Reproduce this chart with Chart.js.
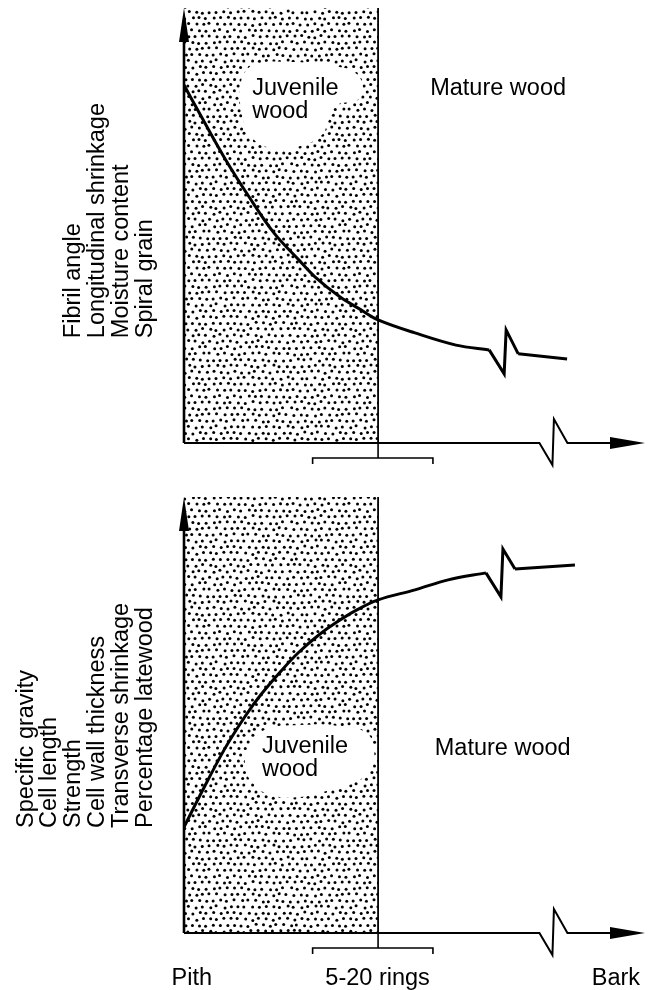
<!DOCTYPE html>
<html><head><meta charset="utf-8">
<script src="https://cdn.jsdelivr.net/npm/chart.js@4.4.1/dist/chart.umd.min.js"></script>
<style>
html,body{margin:0;padding:0;background:#fff;}
#wrap{position:relative;width:650px;height:990px;background:#fff;}
canvas{position:absolute;left:0;}
</style></head><body>
<div id="wrap">
<canvas id="cTop" width="650" height="480" style="top:0px"></canvas>
<canvas id="cBot" width="650" height="510" style="top:480px"></canvas>
</div>
<script>
// ---------- DATA (relative radial position 0 = pith, 100 = bark; relative property level 0-100) ----------
const juvenileEnd = 42.1;            // juvenile / mature boundary
const ringsBracket = [27.9, 54.0];   // 5-20 rings span
const axisBreakX = 77.1;             // break on the radial axis
const xLabels = ["Pith", "5-20 rings", "Bark"];
const xLabelPos = [1.7, 42.0, 93.7];

const topLabels = ["Fibril angle", "Longitudinal shrinkage", "Moisture content", "Spiral grain"];
const botLabels = ["Specific gravity", "Cell length", "Strength", "Cell wall thickness", "Transverse shrinkage", "Percentage latewood"];
const zoneJuvenile = ["Juvenile", "wood"];
const zoneMature = "Mature wood";

// upper panel: decreasing properties (before and after the curve break)
const topCurveX  = [0, 3.3, 8.7, 14.1, 19.5, 24.9, 28.4, 33.8, 38.4, 42.1, 50.1, 59.0, 66.2];
const topCurveY  = [82.3, 75.9, 65.7, 56.6, 48.3, 42.1, 38.2, 33.6, 30.6, 28.3, 25.3, 22.5, 21.4];
const topCurve2X = [72.5, 83.1];
const topCurve2Y = [20.5, 19.3];

// lower panel: increasing properties
const botCurveX  = [0, 3.3, 8.7, 13.2, 16.7, 21.3, 24.9, 29.3, 33.0, 37.5, 42.1, 50.1, 57.3, 65.5];
const botCurveY  = [24.3, 31.2, 42.0, 49.6, 54.7, 60.4, 64.4, 68.4, 71.2, 74.1, 76.4, 78.7, 81.0, 82.6];
const botCurve2X = [71.8, 84.8];
const botCurve2Y = [83.5, 84.4];

// clear "cloud" behind the Juvenile wood label
const topBlobX = [12.6, 15.4, 23.0, 31.7, 37.1, 38.8, 37.7, 32.8, 31.2, 29.9, 25.2, 19.1, 14.8, 12.8, 12.1];
const topBlobY = [84.6, 87.1, 87.6, 86.7, 85.1, 81.6, 78.9, 77.5, 73.8, 70.8, 68.3, 67.8, 70.1, 74.7, 80.0];
const botBlobX = [14.3, 17.6, 25.2, 33.8, 39.3, 41.2, 40.3, 37.1, 31.7, 25.2, 18.7, 14.8, 13.2];
const botBlobY = [43.1, 46.6, 47.7, 47.5, 46.1, 42.4, 37.4, 34.6, 32.8, 31.2, 31.7, 34.6, 38.5];

// ---------- LAYOUT / STYLE ----------
const FONT = '23.5px "Liberation Sans", Arial, Helvetica, sans-serif';
const layoutTop = { juv: [14.8, 80.0], mat: [53.4, 80.0], labelStart: 24.1, xLabels: false };
const layoutBot = { juv: [16.9, 41.3], mat: [54.4, 40.8], labelStart: 24.1, xLabels: true };

const pts = (xs, ys) => xs.map((v, i) => ({ x: v, y: ys[i] }));
const closed = (xs, ys) => { const p = pts(xs, ys); p.push({ ...p[0] }); return p; };

function stipple(ctx) {
  const a = 7.0, b = 6.1, N = 20;
  const W = a * N, H = b * N, c = document.createElement('canvas');
  c.width = W; c.height = H;
  const g = c.getContext('2d');
  g.fillStyle = '#000';
  const h = n => { const s = Math.sin(n * 127.1 + 311.7) * 43758.5453; return s - Math.floor(s); };
  let k = 1;
  for (let r = 0; r < N; r++) for (let q = 0; q < N; q++) {
    const px = q * a + (r % 2) * a / 2 + (h(k++) - 0.5) * 2.4;
    const py = r * b + (h(k++) - 0.5) * 2.4;
    for (const dx of [-W, 0, W]) for (const dy of [-H, 0, H]) {
      g.beginPath(); g.arc(px + dx, py + dy, 1.5, 0, Math.PI * 2); g.fill();
    }
  }
  return ctx.createPattern(c, 'repeat');
}

const decor = {
  id: 'decor',
  afterDatasetsDraw(chart) {
    const { ctx, scales: { x, y }, chartArea: a } = chart;
    const L = chart.options.plugins.decor;
    ctx.save();
    ctx.strokeStyle = '#000'; ctx.fillStyle = '#000'; ctx.lineJoin = 'miter';
    const x0 = x.getPixelForValue(0), y0 = y.getPixelForValue(0);
    // vertical axis with arrow
    ctx.lineWidth = 2.6;
    ctx.beginPath(); ctx.moveTo(x0, y0); ctx.lineTo(x0, a.top + 30); ctx.stroke();
    ctx.beginPath(); ctx.moveTo(x0, a.top); ctx.lineTo(x0 - 5, a.top + 34); ctx.lineTo(x0 + 5, a.top + 34); ctx.closePath(); ctx.fill();
    // radial axis with break and arrow
    const bx = x.getPixelForValue(axisBreakX);
    ctx.lineWidth = 2;
    ctx.beginPath(); ctx.moveTo(x0, y0); ctx.lineTo(bx, y0);
    ctx.lineTo(bx + 13, y0 + 22); ctx.lineTo(bx + 14.5, y0 - 24); ctx.lineTo(bx + 28, y0);
    ctx.lineTo(a.right - 30, y0); ctx.stroke();
    ctx.beginPath(); ctx.moveTo(a.right, y0); ctx.lineTo(a.right - 35, y0 - 6); ctx.lineTo(a.right - 35, y0 + 6); ctx.closePath(); ctx.fill();
    // bracket for 5-20 rings
    const jx = x.getPixelForValue(juvenileEnd);
    const b1 = x.getPixelForValue(ringsBracket[0]), b2 = x.getPixelForValue(ringsBracket[1]);
    ctx.lineWidth = 1.6;
    ctx.beginPath(); ctx.moveTo(jx, y0); ctx.lineTo(jx, y0 + 15); ctx.stroke();
    ctx.beginPath(); ctx.moveTo(b1, y0 + 21); ctx.lineTo(b1, y0 + 15); ctx.lineTo(b2, y0 + 15); ctx.lineTo(b2, y0 + 21); ctx.stroke();
    // break on the curve
    const mA = chart.getDatasetMeta(3).data, mB = chart.getDatasetMeta(4).data;
    const p1 = mA[mA.length - 1], p2 = mB[0];
    const mx = p1.x + (p2.x - p1.x) * 0.55;
    ctx.lineWidth = 3;
    ctx.beginPath(); ctx.moveTo(p1.x, p1.y); ctx.lineTo(mx - 1, p1.y + 24); ctx.lineTo(mx + 1, Math.min(p1.y, p2.y) - 20); ctx.lineTo(p2.x, p2.y); ctx.stroke();
    // texts
    ctx.font = FONT; ctx.textBaseline = 'alphabetic'; ctx.textAlign = 'left';
    const jp = [x.getPixelForValue(L.juv[0]), y.getPixelForValue(L.juv[1])];
    ctx.fillText(zoneJuvenile[0], jp[0], jp[1]);
    ctx.fillText(zoneJuvenile[1], jp[0], jp[1] + 23);
    ctx.fillText(zoneMature, x.getPixelForValue(L.mat[0]), y.getPixelForValue(L.mat[1]));
    // rotated property labels
    const labels = L.labels, n = labels.length, sy = y.getPixelForValue(L.labelStart);
    labels.forEach((t, i) => {
      const bxl = x0 - 32 - 23.9 * (n - 1 - i);
      ctx.save(); ctx.translate(bxl, sy); ctx.rotate(-Math.PI / 2);
      ctx.fillText(t, 0, 0); ctx.restore();
    });
    if (L.xLabels) {
      ctx.textAlign = 'center';
      xLabels.forEach((t, i) => ctx.fillText(t, x.getPixelForValue(xLabelPos[i]), y0 + 52));
    }
    ctx.restore();
  }
};

function build(id, padTop, padBottom, cx, cy, c2x, c2y, blx, bly, L) {
  const cv = document.getElementById(id);
  const ctx = cv.getContext('2d');
  return new Chart(cv, {
    type: 'line',
    data: {
      datasets: [
        { data: [{ x: 0, y: 100 }, { x: juvenileEnd, y: 100 }], fill: 'origin', backgroundColor: stipple(ctx), borderWidth: 0, pointRadius: 0, order: 5 },
        { data: [{ x: juvenileEnd, y: 0 }, { x: juvenileEnd, y: 100 }], borderColor: '#000', borderWidth: 1.8, pointRadius: 0, fill: false, order: 2 },
        { data: closed(blx, bly), fill: 'shape', backgroundColor: '#fff', borderWidth: 0, borderColor: 'rgba(0,0,0,0)', pointRadius: 0, tension: 0.45, order: 3 },
        { data: pts(cx, cy), borderColor: '#000', borderWidth: 3, pointRadius: 0, fill: false, tension: 0.35, order: 1 },
        { data: pts(c2x, c2y), borderColor: '#000', borderWidth: 3, pointRadius: 0, fill: false, order: 1 }
      ]
    },
    options: {
      responsive: false, animation: false, devicePixelRatio: 1,
      layout: { padding: { left: 184, right: 5, top: padTop, bottom: padBottom } },
      scales: {
        x: { type: 'linear', min: 0, max: 100, display: false },
        y: { type: 'linear', min: 0, max: 100, display: false }
      },
      plugins: { legend: { display: false }, tooltip: { enabled: false }, decor: L },
      events: []
    },
    plugins: [decor]
  });
}

build('cTop', 8, 37, topCurveX, topCurveY, topCurve2X, topCurve2Y, topBlobX, topBlobY, { ...layoutTop, labels: topLabels });
build('cBot', 17, 57, botCurveX, botCurveY, botCurve2X, botCurve2Y, botBlobX, botBlobY, { ...layoutBot, labels: botLabels });
</script>
</body></html>
